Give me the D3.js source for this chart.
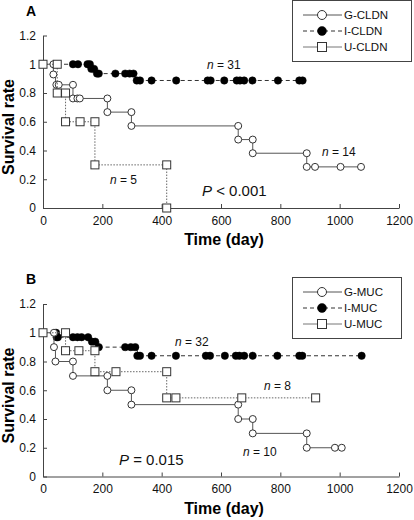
<!DOCTYPE html>
<html>
<head>
<meta charset="utf-8">
<script src="https://cdn.jsdelivr.net/npm/d3@7"></script>
<style>
  html, body { margin: 0; padding: 0; background: #fff; }
  svg { display: block; font-family: "Liberation Sans", Arial, Helvetica, sans-serif; }
</style>
</head>
<body>
<svg id="chart" width="414" height="520"></svg>
<script>
// ---------- DATA ----------
const xTicks = [0, 200, 400, 600, 800, 1000, 1200];
const xTickLabels = ["0", "200", "400", "600", "800", "1000", "1200"];
const yTicks = [0, 0.2, 0.4, 0.6, 0.8, 1, 1.2];
const yTickLabels = ["0", "0.2", "0.4", "0.6", "0.8", "1", "1.2"];

// Panel A (claudin)
const legendA = ["G-CLDN", "I-CLDN", "U-CLDN"];
const gCldnStepT = [0, 35, 42, 101, 217, 298, 658, 707, 889, 1072];
const gCldnStepS = [1, 0.929, 0.857, 0.762, 0.667, 0.571, 0.476, 0.381, 0.286, 0.286];
const gCldnMarkT = [35, 35, 45, 53, 101, 101, 116, 124, 217, 217, 298, 298, 658, 658, 707, 707, 889, 889, 917, 1003, 1072];
const gCldnMarkS = [1, 0.929, 0.857, 0.857, 0.857, 0.762, 0.762, 0.762, 0.762, 0.667, 0.667, 0.571, 0.571, 0.476, 0.476, 0.381, 0.381, 0.286, 0.286, 0.286, 0.286];

const iCldnStepT = [0, 160, 185, 312, 877];
const iCldnStepS = [1, 0.968, 0.935, 0.887, 0.887];
const iCldnMarkT = [101, 118, 150, 158, 163, 172, 182, 188, 244, 277, 292, 305, 316, 327, 366, 449, 555, 565, 611, 653, 664, 678, 706, 792, 864, 875];
const iCldnMarkS = [1, 1, 1, 1, 0.968, 0.968, 0.935, 0.935, 0.935, 0.935, 0.935, 0.935, 0.887, 0.887, 0.887, 0.887, 0.887, 0.887, 0.887, 0.887, 0.887, 0.887, 0.887, 0.887, 0.887, 0.887];

const uCldnStepT = [0, 48, 76, 175, 417];
const uCldnStepS = [1, 0.8, 0.6, 0.3, 0];
const uCldnMarkT = [0, 48, 48, 76, 76, 125, 175, 175, 417, 417];
const uCldnMarkS = [1, 1, 0.8, 0.8, 0.6, 0.6, 0.6, 0.3, 0.3, 0];

// Panel B (mucin)
const legendB = ["G-MUC", "I-MUC", "U-MUC"];
const gMucStepT = [0, 37, 42, 101, 217, 298, 658, 707, 889, 1007];
const gMucStepS = [1, 0.9, 0.8, 0.7, 0.6, 0.5, 0.4, 0.3, 0.2, 0.2];
const gMucMarkT = [37, 37, 42, 101, 101, 217, 217, 298, 298, 658, 658, 707, 707, 889, 889, 984, 1007];
const gMucMarkS = [1, 0.9, 0.8, 0.8, 0.7, 0.7, 0.6, 0.6, 0.5, 0.5, 0.4, 0.4, 0.3, 0.3, 0.2, 0.2, 0.2];

const iMucStepT = [0, 46, 165, 188, 318, 1074];
const iMucStepS = [1, 0.969, 0.938, 0.9, 0.84, 0.84];
const iMucMarkT = [44, 46, 50, 101, 116, 130, 152, 165, 176, 188, 277, 296, 311, 318, 327, 366, 448, 549, 563, 613, 650, 662, 678, 707, 790, 864, 874, 1074];
const iMucMarkS = [1, 0.969, 0.969, 0.969, 0.969, 0.969, 0.969, 0.938, 0.938, 0.9, 0.9, 0.9, 0.9, 0.84, 0.84, 0.84, 0.84, 0.84, 0.84, 0.84, 0.84, 0.84, 0.84, 0.84, 0.84, 0.84, 0.84, 0.84];

const uMucStepT = [0, 76, 175, 417, 919];
const uMucStepS = [1, 0.875, 0.729, 0.547, 0.547];
const uMucMarkT = [0, 76, 76, 121, 175, 175, 246, 417, 417, 448, 670, 919];
const uMucMarkS = [1, 1, 0.875, 0.875, 0.875, 0.729, 0.729, 0.729, 0.547, 0.547, 0.547, 0.547];

// ---------- DRAWING ----------
const svg = d3.select("#chart");
const FONT = "'Liberation Sans', Arial, Helvetica, sans-serif";
const axisColor = "#444";

const styles = {
  G: { stroke: "#555", dash: null, marker: "circle", fill: "#fff" },
  I: { stroke: "#333", dash: "4,3", marker: "dot", fill: "#000" },
  U: { stroke: "#666", dash: "1.5,1.5", marker: "square", fill: "#fff" }
};

function zip(t, s) { return t.map((d, i) => ({ t: d, s: s[i] })); }

function drawPanel(cfg) {
  const x = d3.scaleLinear().domain([0, 1200]).range([43, 399]);
  const y = d3.scaleLinear().domain([0, 1.2]).range([cfg.y0, cfg.y0 - 172.5]);
  const g = svg.append("g");

  // axes
  const xAxis = d3.axisBottom(x).tickValues(xTicks)
    .tickFormat((d, i) => xTickLabels[i]).tickSizeInner(-4).tickSizeOuter(0).tickPadding(8);
  const xa = g.append("g").attr("transform", `translate(0,${cfg.y0})`).call(xAxis);
  const yAxis = d3.axisLeft(y).tickValues(yTicks)
    .tickFormat((d, i) => yTickLabels[i]).tickSizeInner(-4).tickSizeOuter(0).tickPadding(7);
  const ya = g.append("g").attr("transform", `translate(43,0)`).call(yAxis);
  [xa, ya].forEach(a => {
    a.selectAll("path, line").attr("stroke", axisColor).attr("stroke-width", 1);
    a.selectAll("text").attr("font-size", 12).attr("font-family", FONT).attr("fill", "#111");
  });

  // axis titles
  g.append("text").attr("x", 224).attr("y", cfg.y0 + 37).attr("text-anchor", "middle")
    .attr("font-size", 16).attr("font-weight", "bold").attr("font-family", FONT).text("Time (day)");
  g.append("text").attr("transform", `translate(14,${cfg.y0 - 81}) rotate(-90)`)
    .attr("text-anchor", "middle").attr("font-size", 16).attr("font-weight", "bold")
    .attr("font-family", FONT).text("Survival rate");

  // panel letter
  g.append("text").attr("x", 26).attr("y", cfg.letterY).attr("font-size", 14)
    .attr("font-weight", "bold").attr("font-family", FONT).text(cfg.letter);

  const line = d3.line().x(d => x(d.t)).y(d => y(d.s)).curve(d3.curveStepAfter);

  cfg.series.forEach(sr => {
    const st = styles[sr.key];
    g.append("path").datum(zip(sr.stepT, sr.stepS)).attr("d", line)
      .attr("fill", "none").attr("stroke", st.stroke).attr("stroke-width", 1)
      .attr("stroke-dasharray", st.dash);
    drawMarkers(g, zip(sr.markT, sr.markS).map(d => ({ x: x(d.t), y: y(d.s) })), st, false);
  });

  // legend
  const lg = g.append("g");
  lg.append("rect").attr("x", 292.5).attr("y", cfg.legY + 0.5).attr("width", cfg.legW).attr("height", 61)
    .attr("fill", "#fff").attr("stroke", "#444").attr("stroke-width", 1);
  cfg.legend.forEach((name, i) => {
    const key = ["G", "I", "U"][i];
    const st = styles[key];
    const cy = cfg.legY + 15 + i * 16;
    lg.append("line").attr("x1", 303).attr("x2", 342).attr("y1", cy).attr("y2", cy)
      .attr("stroke", key === "U" ? "#777" : st.stroke).attr("stroke-width", 1)
      .attr("stroke-dasharray", key === "I" ? "4,3" : null);
    drawMarkers(lg, [{ x: 322, y: cy }], st, true);
    lg.append("text").attr("x", 344).attr("y", cy + 4).attr("font-size", 11.5)
      .attr("font-family", FONT).attr("fill", "#111").text(name);
  });

  // annotations
  cfg.nLabels.forEach(l => {
    const t = g.append("text").attr("x", l.x).attr("y", l.y).attr("font-size", 12)
      .attr("font-family", FONT).attr("fill", "#111");
    t.append("tspan").attr("font-style", "italic").text("n");
    t.append("tspan").text(" = " + l.n);
  });
  const p = g.append("text").attr("x", cfg.p.x).attr("y", cfg.p.y).attr("font-size", 15)
    .attr("font-family", FONT).attr("fill", "#111");
  p.append("tspan").attr("font-style", "italic").text("P");
  p.append("tspan").text(cfg.p.text);
}

function drawMarkers(g, pts, st, legend) {
  if (st.marker === "circle") {
    g.selectAll(null).data(pts).enter().append("circle")
      .attr("cx", d => d.x).attr("cy", d => d.y).attr("r", legend ? 4.5 : 3.5)
      .attr("fill", "#fff").attr("stroke", "#333").attr("stroke-width", 1);
  } else if (st.marker === "dot") {
    g.selectAll(null).data(pts).enter().append("circle")
      .attr("cx", d => d.x).attr("cy", d => d.y).attr("r", legend ? 4.5 : 3.7)
      .attr("fill", "#000").attr("stroke", "#000").attr("stroke-width", 0.5);
  } else {
    const h = legend ? 4.5 : 4;
    g.selectAll(null).data(pts).enter().append("rect")
      .attr("x", d => d.x - h).attr("y", d => d.y - h).attr("width", 2 * h).attr("height", 2 * h)
      .attr("fill", "#fff").attr("stroke", "#333").attr("stroke-width", 1);
  }
}

drawPanel({
  y0: 208, letter: "A", letterY: 16, legY: 0, legW: 119, legend: legendA,
  series: [
    { key: "I", stepT: iCldnStepT, stepS: iCldnStepS, markT: iCldnMarkT, markS: iCldnMarkS },
    { key: "G", stepT: gCldnStepT, stepS: gCldnStepS, markT: gCldnMarkT, markS: gCldnMarkS },
    { key: "U", stepT: uCldnStepT, stepS: uCldnStepS, markT: uCldnMarkT, markS: uCldnMarkS }
  ],
  nLabels: [{ x: 207, y: 69, n: 31 }, { x: 322, y: 156, n: 14 }, { x: 110, y: 184, n: 5 }],
  p: { x: 202, y: 196, text: " < 0.001" }
});

drawPanel({
  y0: 476.5, letter: "B", letterY: 284, legY: 277, legW: 109, legend: legendB,
  series: [
    { key: "I", stepT: iMucStepT, stepS: iMucStepS, markT: iMucMarkT, markS: iMucMarkS },
    { key: "G", stepT: gMucStepT, stepS: gMucStepS, markT: gMucMarkT, markS: gMucMarkS },
    { key: "U", stepT: uMucStepT, stepS: uMucStepS, markT: uMucMarkT, markS: uMucMarkS }
  ],
  nLabels: [{ x: 175, y: 346, n: 32 }, { x: 264, y: 390, n: 8 }, { x: 243, y: 456, n: 10 }],
  p: { x: 119, y: 465, text: " = 0.015" }
});
</script>
</body>
</html>
